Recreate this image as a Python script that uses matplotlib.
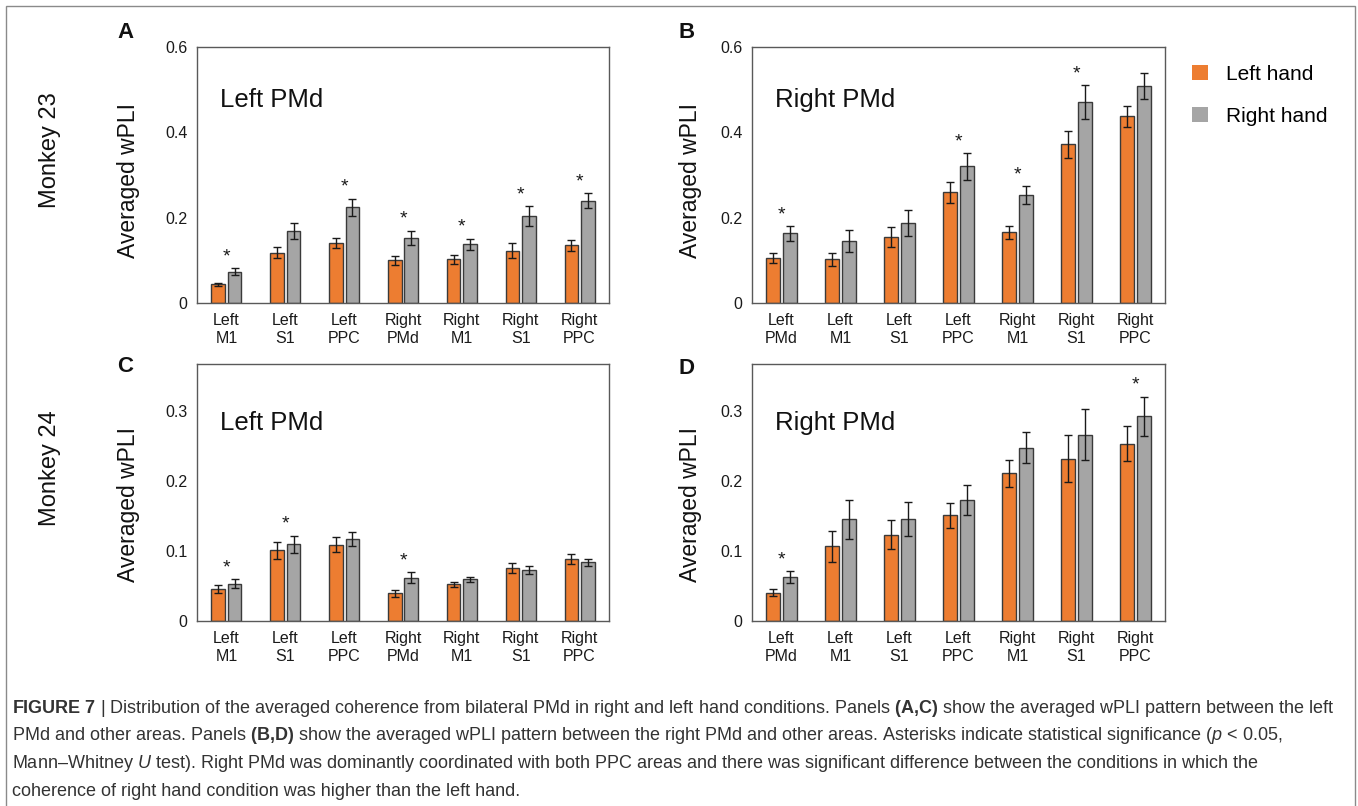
import numpy as np
import matplotlib.pyplot as plt
from matplotlib.patches import Patch, Rectangle
from matplotlib.ticker import FuncFormatter

plt.rcParams['font.family'] = ['Liberation Sans', 'DejaVu Sans']
plt.rcParams['mathtext.fontset'] = 'custom'
plt.rcParams['mathtext.rm'] = 'Liberation Sans'
plt.rcParams['mathtext.bf'] = 'Liberation Sans:bold'
plt.rcParams['mathtext.it'] = 'Liberation Sans:italic'

# categories
cats_left_pmd = ["Left\nM1", "Left\nS1", "Left\nPPC", "Right\nPMd", "Right\nM1", "Right\nS1", "Right\nPPC"]
cats_right_pmd = ["Left\nPMd", "Left\nM1", "Left\nS1", "Left\nPPC", "Right\nM1", "Right\nS1", "Right\nPPC"]

# Panel A: monkey 23, left PMd
a_left = [0.044, 0.118, 0.141, 0.100, 0.102, 0.123, 0.135]
a_left_err = [0.004, 0.013, 0.012, 0.010, 0.010, 0.017, 0.0125]
a_right = [0.073, 0.169, 0.224, 0.152, 0.1375, 0.204, 0.240]
a_right_err = [0.008, 0.018, 0.020, 0.017, 0.013, 0.023, 0.0176]
a_sig = [1, 0, 1, 1, 1, 1, 1]

# Panel B: monkey 23, right PMd
b_left = [0.105, 0.102, 0.154, 0.259, 0.166, 0.372, 0.4375]
b_left_err = [0.012, 0.016, 0.023, 0.025, 0.015, 0.032, 0.025]
b_right = [0.163, 0.146, 0.187, 0.320, 0.253, 0.471, 0.509]
b_right_err = [0.017, 0.026, 0.031, 0.031, 0.021, 0.040, 0.031]
b_sig = [1, 0, 0, 1, 1, 1, 0]

# Panel C: monkey 24, left PMd
c_left = [0.0457, 0.101, 0.109, 0.0395, 0.0524, 0.0757, 0.089]
c_left_err = [0.0055, 0.012, 0.0105, 0.005, 0.004, 0.0076, 0.007]
c_right = [0.0533, 0.1095, 0.117, 0.062, 0.0595, 0.0729, 0.084]
c_right_err = [0.006, 0.0124, 0.010, 0.0074, 0.004, 0.006, 0.005]
c_sig = [1, 1, 0, 1, 0, 0, 0]

# Panel D: monkey 24, right PMd
d_left = [0.040, 0.1067, 0.1233, 0.151, 0.211, 0.232, 0.2533]
d_left_err = [0.005, 0.022, 0.021, 0.018, 0.019, 0.033, 0.025]
d_right = [0.0629, 0.145, 0.146, 0.173, 0.2476, 0.266, 0.2924]
d_right_err = [0.0083, 0.0274, 0.0245, 0.021, 0.022, 0.0367, 0.028]
d_sig = [1, 0, 0, 0, 0, 0, 1]

ORANGE = '#ED7D31'
GRAY = '#A5A5A5'
EDGE = '#3a3a3a'
SPINE = '#595959'

W, H = 1358, 806
fig = plt.figure(figsize=(W / 100, H / 100), dpi=100)


def add_ax(l, t, r, b):
    return fig.add_axes([l / W, 1 - b / H, (r - l) / W, (b - t) / H])


def fmt(v, pos):
    return '0' if v == 0 else f'{v:.1f}'


def panel(ax, cats, lv, le, rv, re, sig, ymax, ticks, title, title_y):
    x = np.arange(len(cats))
    ekw = dict(ecolor='#1a1a1a', elinewidth=1, capsize=3, capthick=1)
    ax.bar(x - 0.14, lv, 0.23, yerr=le, color=ORANGE, edgecolor=EDGE, linewidth=1, error_kw=ekw)
    ax.bar(x + 0.14, rv, 0.23, yerr=re, color=GRAY, edgecolor=EDGE, linewidth=1, error_kw=ekw)
    for i, s in enumerate(sig):
        if s:
            top = max(lv[i] + le[i], rv[i] + re[i])
            ax.annotate('*', (x[i], top), xytext=(0, 5), textcoords='offset points',
                        ha='center', va='baseline', fontsize=14, color='#1a1a1a')
    ax.set_xlim(-0.5, len(cats) - 0.5)
    ax.set_ylim(0, ymax)
    ax.set_yticks(ticks)
    ax.yaxis.set_major_formatter(FuncFormatter(fmt))
    ax.set_xticks(x)
    ax.set_xticklabels(cats, fontsize=11.5, linespacing=1.3)
    ax.tick_params(length=0, labelsize=11.5, pad=7, colors='#1a1a1a')
    for sp in ax.spines.values():
        sp.set_color(SPINE)
        sp.set_linewidth(1)
    ax.text(0.056, title_y, title, transform=ax.transAxes, fontsize=18.5,
            va='center', ha='left', color='#111111')


ax_a = add_ax(197, 47, 609, 303)
ax_b = add_ax(752, 47, 1165, 303)
ax_c = add_ax(197, 364, 609, 621)
ax_d = add_ax(752, 364, 1165, 621)

panel(ax_a, cats_left_pmd, a_left, a_left_err, a_right, a_right_err, a_sig,
      0.6, [0, 0.2, 0.4, 0.6], 'Left PMd', 0.793)
panel(ax_b, cats_right_pmd, b_left, b_left_err, b_right, b_right_err, b_sig,
      0.6, [0, 0.2, 0.4, 0.6], 'Right PMd', 0.793)
panel(ax_c, cats_left_pmd, c_left, c_left_err, c_right, c_right_err, c_sig,
      0.367, [0, 0.1, 0.2, 0.3], 'Left PMd', 0.77)
panel(ax_d, cats_right_pmd, d_left, d_left_err, d_right, d_right_err, d_sig,
      0.367, [0, 0.1, 0.2, 0.3], 'Right PMd', 0.77)

# y labels, panel letters, row labels
for px, py in [(129, 180), (690, 180), (129, 505), (690, 505)]:
    fig.text(px / W, 1 - py / H, 'Averaged wPLI', rotation=90, ha='center', va='center',
             fontsize=16.5, color='#111111')
for letter, px, py in [('A', 125, 32), ('B', 687, 32), ('C', 125, 367), ('D', 687, 368)]:
    fig.text(px / W, 1 - py / H, letter, ha='center', va='center', fontsize=16,
             fontweight='bold', color='#111111')
for lab, py in [('Monkey 23', 150), ('Monkey 24', 468)]:
    fig.text(50 / W, 1 - py / H, lab, rotation=90, ha='center', va='center', fontsize=17,
             color='#111111')

# legend
handles = [Patch(facecolor=ORANGE, edgecolor='none'), Patch(facecolor=GRAY, edgecolor='none')]
fig.legend(handles, ['Left hand', 'Right hand'], loc='upper left',
           bbox_to_anchor=(1192 / W, 1 - 65 / H), frameon=False, fontsize=15,
           handlelength=0.75, handleheight=0.75, handletextpad=0.9, labelspacing=1.1,
           borderpad=0, borderaxespad=0)

# caption
caption = [
    r"$\mathbf{FIGURE\ 7}$ | Distribution of the averaged coherence from bilateral PMd in right and left hand conditions. "
    r"Panels $\mathbf{(A{,}C)}$ show the averaged wPLI pattern between the left",
    r"PMd and other areas. Panels $\mathbf{(B{,}D)}$ show the averaged wPLI pattern between the right PMd and other areas. "
    r"Asterisks indicate statistical significance ($\mathit{p}$ < 0.05,",
    r"Mann–Whitney $\mathit{U}$ test). Right PMd was dominantly coordinated with both PPC areas and there was "
    r"significant difference between the conditions in which the",
    r"coherence of right hand condition was higher than the left hand.",
]
for i, line in enumerate(caption):
    fig.text(12 / W, 1 - (713 + 27.5 * i) / H, line, ha='left', va='baseline', fontsize=13,
             color='#333333')

# outer frame
fig.patches.append(Rectangle((6 / W, -0.02), 1349 / W, 1 - 6 / H + 0.02, transform=fig.transFigure,
                             fill=False, edgecolor='#8a8a8a', linewidth=1))

fig.savefig('out.png', dpi=100)
